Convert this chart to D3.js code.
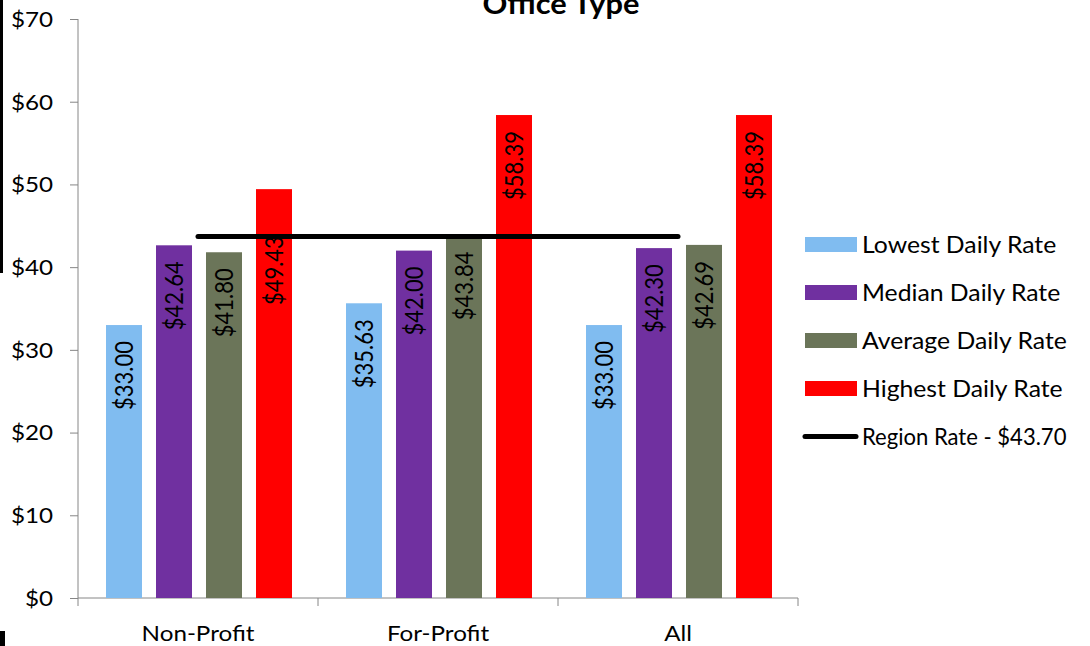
<!DOCTYPE html>
<html>
<head>
<meta charset="utf-8">
<script src="https://cdn.jsdelivr.net/npm/d3@7"></script>
<style>
  html, body { margin: 0; padding: 0; background: #fff; }
  svg { display: block; font-family: Lato, "Open Sans", sans-serif; }
</style>
</head>
<body>
<svg id="chart" width="1090" height="646"></svg>
<script>
// Daily rates by office type
const categories = ["Non-Profit", "For-Profit", "All"];
const seriesNames = ["Lowest Daily Rate", "Median Daily Rate", "Average Daily Rate", "Highest Daily Rate"];
const lowest  = [33.00, 35.63, 33.00];
const median  = [42.64, 42.00, 42.30];
const average = [41.80, 43.84, 42.69];
const highest = [49.43, 58.39, 58.39];
const regionRate = [43.70, 43.70, 43.70];
const regionLabel = "Region Rate - $43.70";
const yTicks = [0, 10, 20, 30, 40, 50, 60, 70];
const title = "Office Type";

const seriesValues = [lowest, median, average, highest];
const colors = ["#80BCF0", "#7030A0", "#6B7559", "#FF0000"];

// text in this chart is set slightly wide
const WIDE = 1.1;

const svg = d3.select("#chart");

// frame marks along the left edge
svg.append("rect").attr("x", 0).attr("y", 0).attr("width", 3).attr("height", 273).attr("fill", "#000");
svg.append("rect").attr("x", 0).attr("y", 631).attr("width", 5).attr("height", 15).attr("fill", "#000");

const plot = { left: 78, right: 798, top: 19, bottom: 598 };

const x0 = d3.scaleBand().domain(categories).range([plot.left, plot.right]).padding(0);
const x1 = d3.scaleBand().domain(seriesNames).range([28, 214]).paddingInner(0.28).paddingOuter(0);
const y = d3.scaleLinear().domain([0, 70]).range([plot.bottom, plot.top]);

function wideText(parent, x, yPos, str, size, anchor, sx) {
  return parent.append("text")
    .attr("transform", `translate(${x},${yPos}) scale(${sx || WIDE},1)`)
    .attr("text-anchor", anchor || "start")
    .attr("font-size", size)
    .attr("fill", "#000")
    .text(str);
}

// title
wideText(svg, 561, 14, title, 28, "middle").attr("font-weight", "bold");

// y axis
const yAxis = svg.append("g")
  .attr("transform", `translate(${plot.left},0)`)
  .call(d3.axisLeft(y).tickValues(yTicks).tickSize(8).tickFormat(""));
yAxis.select(".domain").attr("stroke", "#868686").attr("d", `M0,${plot.top}V${plot.bottom + 8}`);
yAxis.selectAll(".tick line").attr("stroke", "#868686");
yAxis.selectAll(".tick text").remove();
yTicks.forEach(t => {
  wideText(svg, 53, y(t), "$" + t, 22, "end").attr("dy", "0.36em");
});

// x axis
const xAxis = svg.append("g")
  .attr("transform", `translate(0,${plot.bottom})`)
  .call(d3.axisBottom(x0).tickSize(0).tickFormat(""));
xAxis.select(".domain").attr("stroke", "#868686").attr("d", `M${plot.left},0H${plot.right}`);
xAxis.selectAll(".tick").remove();
// category boundary ticks
xAxis.selectAll("line.sep")
  .data(categories)
  .join("line")
  .attr("class", "sep")
  .attr("x1", d => x0(d) + x0.bandwidth()).attr("x2", d => x0(d) + x0.bandwidth())
  .attr("y1", 0).attr("y2", 8)
  .attr("stroke", "#868686");
categories.forEach(c => {
  wideText(svg, x0(c) + x0.bandwidth() / 2, 641, c, 22, "middle");
});

// bars
const barData = [];
categories.forEach((c, ci) => {
  seriesNames.forEach((s, si) => {
    barData.push({ cat: c, series: s, si, value: seriesValues[si][ci] });
  });
});

svg.append("g").selectAll("rect")
  .data(barData)
  .join("rect")
  .attr("x", d => x0(d.cat) + x1(d.series))
  .attr("y", d => y(d.value))
  .attr("width", x1.bandwidth())
  .attr("height", d => y(0) - y(d.value))
  .attr("fill", d => colors[d.si]);

// value labels, written upward inside each bar
const labelShift = d => (d.cat === "Non-Profit" && d.si === 3) ? 31 : 0;
svg.append("g").selectAll("text")
  .data(barData)
  .join("text")
  .attr("transform", d => {
    const cx = x0(d.cat) + x1(d.series) + x1.bandwidth() / 2;
    const ty = y(d.value) + 16 + labelShift(d);
    return `translate(${cx},${ty}) scale(${WIDE},1) rotate(-90)`;
  })
  .attr("text-anchor", "end")
  .attr("dy", "0.36em")
  .attr("font-size", 22)
  .attr("fill", "#000")
  .text(d => "$" + d.value.toFixed(2));

// region rate line
const line = d3.line()
  .x((d, i) => x0(categories[i]) + x0.bandwidth() / 2)
  .y(d => y(d));
svg.append("path")
  .datum(regionRate)
  .attr("d", line)
  .attr("fill", "none")
  .attr("stroke", "#000")
  .attr("stroke-width", 5)
  .attr("stroke-linecap", "round");

// legend
const legend = svg.append("g").attr("transform", "translate(805,0)");
const legendRows = [244.5, 292.5, 340.5, 388.5];
seriesNames.forEach((s, i) => {
  legend.append("rect")
    .attr("x", 0).attr("y", legendRows[i] - 7.5)
    .attr("width", 52).attr("height", 15)
    .attr("fill", colors[i]);
  wideText(legend, 57, legendRows[i] + 8, s, 22.5);
});
legend.append("line")
  .attr("x1", 0).attr("x2", 51)
  .attr("y1", 436.5).attr("y2", 436.5)
  .attr("stroke", "#000").attr("stroke-width", 5).attr("stroke-linecap", "round");
wideText(legend, 57, 444.5, regionLabel, 22.5, "start", 0.98);
</script>
</body>
</html>
